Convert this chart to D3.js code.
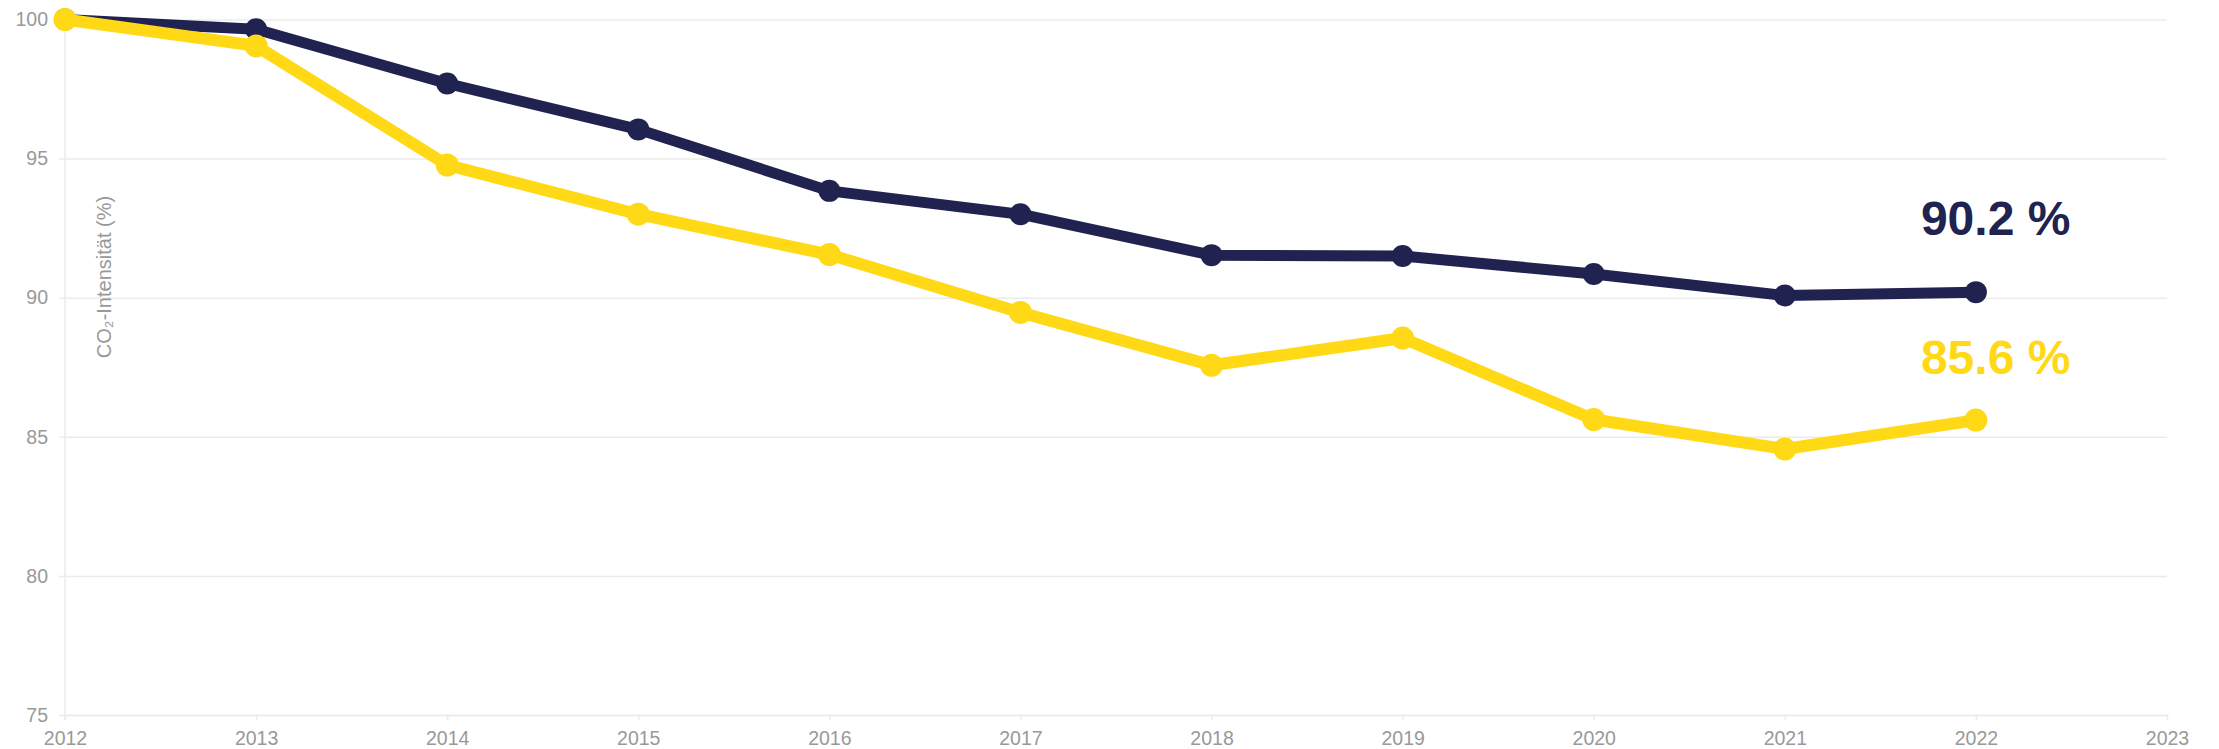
<!DOCTYPE html>
<html>
<head>
<meta charset="utf-8">
<script src="https://cdn.jsdelivr.net/npm/d3@7"></script>
<style>
  html, body { margin: 0; padding: 0; background: #fff; }
  svg { display: block; font-family: "Liberation Sans", Arial, sans-serif; }
</style>
</head>
<body>
<svg id="chart" width="2219" height="749"></svg>
<script>
const years = [2012, 2013, 2014, 2015, 2016, 2017, 2018, 2019, 2020, 2021, 2022];
const navyValues = [100, 99.65, 97.7, 96.05, 93.84, 93.0, 91.53, 91.5, 90.85, 90.08, 90.2];
const yellowValues = [100, 99.05, 94.77, 93.0, 91.55, 89.47, 87.57, 88.55, 85.62, 84.56, 85.6];
const xTicks = [2012, 2013, 2014, 2015, 2016, 2017, 2018, 2019, 2020, 2021, 2022, 2023];
const yTicks = [75, 80, 85, 90, 95, 100];
const yTitle = "CO₂-Intensität (%)";
const navyLabel = "90.2 %";
const yellowLabel = "85.6 %";

(function () {
const NAVY = "#20234f", YELLOW = "#ffd916", GRID = "#ebebeb", TEXT = "#999999";
const mLeft = 65, mRight = 2167, mTop = 19.5, mBottom = 715;

const svg = d3.select("#chart");
const x = d3.scaleLinear().domain([2012, 2023]).range([mLeft, mRight]);
const y = d3.scaleLinear().domain([75, 100]).range([mBottom, mTop]);

// Y axis with gridlines
const gy = svg.append("g").attr("transform", `translate(${mRight},0)`)
  .call(d3.axisLeft(y).tickValues(yTicks).tickSize(mRight - mLeft + 6).tickPadding(11).tickFormat(d3.format("d")));
gy.select(".domain").remove();
gy.selectAll(".tick line").attr("stroke", GRID).attr("stroke-width", 1.5);
gy.selectAll(".tick text").attr("fill", TEXT).style("font-size", "19.5px");

// X axis
const gx = svg.append("g").attr("transform", `translate(0,${mBottom})`)
  .call(d3.axisBottom(x).tickValues(xTicks).tickSize(5).tickSizeOuter(0).tickPadding(11).tickFormat(d3.format("d")));
gx.select(".domain").attr("stroke", GRID).attr("stroke-width", 1.5);
gx.selectAll(".tick line").attr("stroke", GRID).attr("stroke-width", 1.5);
gx.selectAll(".tick text").attr("fill", TEXT).style("font-size", "19.5px");

// vertical axis line
svg.append("line").attr("x1", x(2012)).attr("x2", x(2012)).attr("y1", y(100)).attr("y2", mBottom + 5)
  .attr("stroke", GRID).attr("stroke-width", 1.5);

// Y title
svg.append("text")
  .attr("transform", `translate(104,277) rotate(-90)`)
  .attr("text-anchor", "middle").attr("dy", "0.35em")
  .attr("fill", TEXT).style("font-size", "20px").text(yTitle);

const line = d3.line().x((d, i) => x(years[i])).y(d => y(d));

function drawSeries(values, color, width, r) {
  svg.append("path").datum(values).attr("d", line).attr("fill", "none")
    .attr("stroke", color).attr("stroke-width", width).attr("stroke-linejoin", "round");
  svg.append("g").selectAll("circle").data(values).join("circle")
    .attr("cx", (d, i) => x(years[i])).attr("cy", d => y(d)).attr("r", r).attr("fill", color);
}
drawSeries(navyValues, NAVY, 11, 11);
drawSeries(yellowValues, YELLOW, 12, 11.5);

// End labels
const lastYear = years[years.length - 1];
svg.append("text").attr("x", x(lastYear) - 55).attr("y", y(navyValues[navyValues.length - 1]) - 57)
  .attr("fill", NAVY).style("font-size", "48px").style("font-weight", "bold").text(navyLabel);
svg.append("text").attr("x", x(lastYear) - 55).attr("y", y(yellowValues[yellowValues.length - 1]) - 46)
  .attr("fill", YELLOW).style("font-size", "48px").style("font-weight", "bold").text(yellowLabel);
})();
</script>
</body>
</html>
